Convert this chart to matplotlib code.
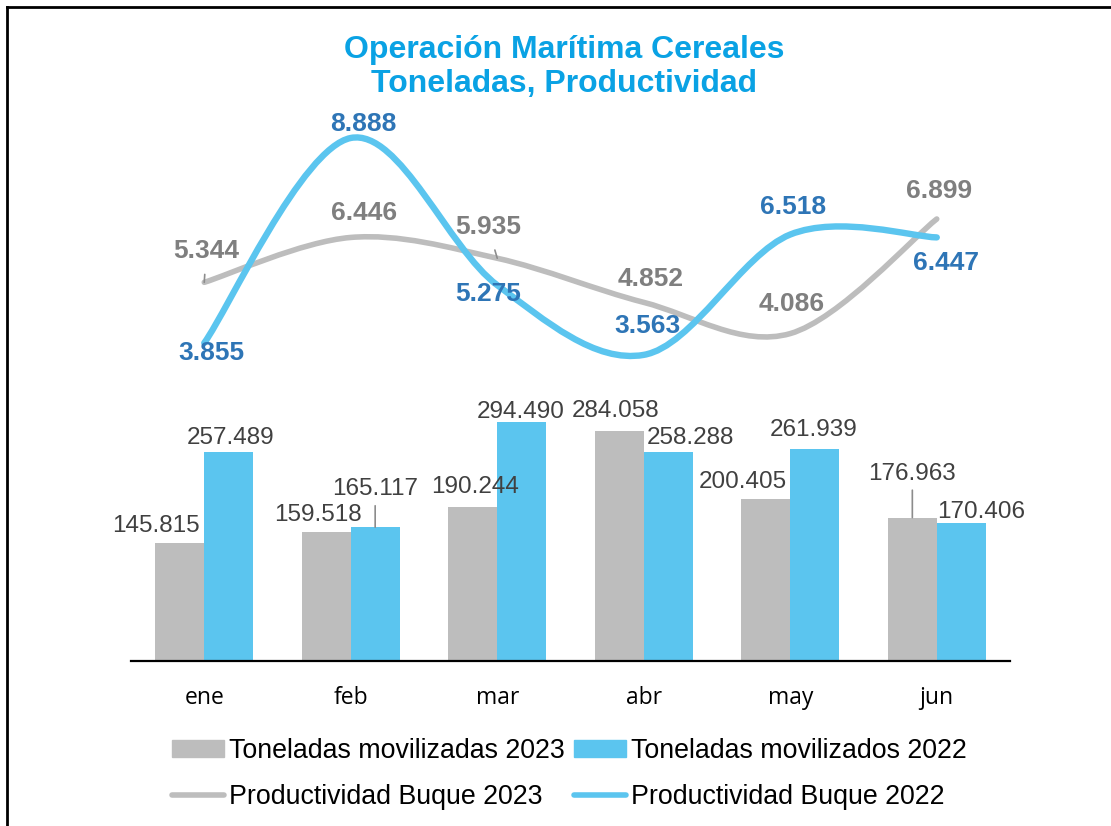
import matplotlib
matplotlib.use('Agg')
import matplotlib.pyplot as plt
import numpy as np
from matplotlib.path import Path
from matplotlib.patches import PathPatch, Patch
from matplotlib.lines import Line2D

plt.rcParams['font.family'] = ['Liberation Sans', 'DejaVu Sans']

meses = ['ene', 'feb', 'mar', 'abr', 'may', 'jun']
ton_2023 = [145.815, 159.518, 190.244, 284.058, 200.405, 176.963]
ton_2022 = [257.489, 165.117, 294.490, 258.288, 261.939, 170.406]
prod_2023 = [5.344, 6.446, 5.935, 4.852, 4.086, 6.899]
prod_2022 = [3.855, 8.888, 5.275, 3.563, 6.518, 6.447]

GRIS = '#BDBDBD'
AZUL = '#5BC5EF'

# label offsets in pixels (dx, dy), dy positive = up
off_t23 = [(-24, 17), (-8, 17), (2, 20), (-4, 20), (-23, 17), (0, 44)]
off_t22 = [(2, 14), (0, 38), (-1, 10), (22, 14), (-1, 19), (20, 11)]
off_p23 = [(2, 31), (13, 24), (-9, 31), (7, 23), (1, 30), (2, 28)]
off_p22 = [(7, -10), (13, 14), (-9, -9), (4, 29), (3, 28), (9, -26)]
lead_t23 = [False, False, False, False, False, True]
lead_t22 = [False, True, False, False, False, False]
lead_p23 = [True, False, True, False, False, False]


def fmt(v):
    return f'{v:.3f}'


def smooth_path(xs, ys):
    # Excel-like smoothed line (Catmull-Rom as cubic bezier)
    pts = np.column_stack([xs, ys]).astype(float)
    n = len(pts)
    verts = [pts[0]]
    codes = [Path.MOVETO]
    for i in range(n - 1):
        p0 = pts[max(i - 1, 0)]
        p1 = pts[i]
        p2 = pts[i + 1]
        p3 = pts[min(i + 2, n - 1)]
        verts += [p1 + (p2 - p0) / 6, p2 - (p3 - p1) / 6, p2]
        codes += [Path.CURVE4] * 3
    return Path(verts, codes)


fig = plt.figure(figsize=(11.11, 8.26), dpi=100)
ax = fig.add_axes([131 / 1111, 1 - 661 / 826, 879 / 1111, 551 / 826])
x = np.arange(len(meses))
w = 1 / 3

ax.bar(x - w / 2, ton_2023, w, color=GRIS, zorder=2)
ax.bar(x + w / 2, ton_2022, w, color=AZUL, zorder=2)
ax.set_xlim(-0.5, 5.5)
ax.set_ylim(0, 680)
ax.set_yticks([])
for s in ['top', 'left', 'right']:
    ax.spines[s].set_visible(False)
ax.spines['bottom'].set_linewidth(1.6)
ax.spines['bottom'].set_color('black')
ax.set_xticks(x)
ax.set_xticklabels(meses, fontsize=16.5, family=['Open Sans', 'DejaVu Sans'])
ax.tick_params(axis='x', length=0, pad=18)


def bar_labels(xs, vals, offs, leads):
    for xi, v, (dx, dy), ld in zip(xs, vals, offs, leads):
        ap = None
        if ld:
            ap = dict(arrowstyle='-', color='#8C8C8C', lw=1.2, shrinkA=2, shrinkB=0)
        ax.annotate(fmt(v), (xi, v), xytext=(dx, dy), textcoords='offset pixels',
                    ha='center', va='center', fontsize=17.5, color='#404040',
                    arrowprops=ap, zorder=5)


bar_labels(x - w / 2, ton_2023, off_t23, lead_t23)
bar_labels(x + w / 2, ton_2022, off_t22, lead_t22)

ax2 = ax.twinx()
ax2.set_ylim(-3.953, 9.575)
ax2.set_axis_off()
ax2.add_patch(PathPatch(smooth_path(x, prod_2023), fill=False, edgecolor=GRIS,
                        lw=4, capstyle='round', joinstyle='round', zorder=3))
ax2.add_patch(PathPatch(smooth_path(x, prod_2022), fill=False, edgecolor=AZUL,
                        lw=4.6, capstyle='round', joinstyle='round', zorder=4))


def line_labels(vals, offs, color, leads):
    for xi, v, (dx, dy), ld in zip(x, vals, offs, leads):
        ap = None
        if ld:
            ap = dict(arrowstyle='-', color='#8C8C8C', lw=1.2, shrinkA=6, shrinkB=0)
        ax2.annotate(fmt(v), (xi, v), xytext=(dx, dy), textcoords='offset pixels',
                     ha='center', va='center', fontsize=19, fontweight='bold',
                     color=color, arrowprops=ap, zorder=6)


line_labels(prod_2023, off_p23, '#7F7F7F', lead_p23)
line_labels(prod_2022, off_p22, '#2E75B6', [False] * 6)

fig.text(564 / 1111, 1 - 67 / 826, 'Operación Marítima Cereales\nToneladas, Productividad',
         ha='center', va='center', fontsize=23, fontweight='bold', color='#0AA2E4',
         linespacing=1.2)

handles = [
    Patch(color=GRIS, label='Toneladas movilizadas 2023'),
    Line2D([], [], color=GRIS, lw=4, solid_capstyle='round', label='Productividad Buque 2023'),
    Patch(color=AZUL, label='Toneladas movilizados 2022'),
    Line2D([], [], color=AZUL, lw=4, solid_capstyle='round', label='Productividad Buque 2022'),
]
fig.legend(handles=handles, ncol=2, loc='center', bbox_to_anchor=(569.5 / 1111, 1 - 774 / 826),
           frameon=False, fontsize=19.3, handlelength=1.95, handleheight=0.55,
           handletextpad=0.19, columnspacing=0.33, labelspacing=0.75, borderpad=0,
           borderaxespad=0)

# chart border (cropped frame)
fig.add_artist(Line2D([7 / 1111, 1], [1 - 7 / 826] * 2, transform=fig.transFigure,
                      color='black', lw=2))
fig.add_artist(Line2D([7 / 1111] * 2, [0, 1 - 7 / 826], transform=fig.transFigure,
                      color='black', lw=2))

fig.savefig('out.png', dpi=100)
